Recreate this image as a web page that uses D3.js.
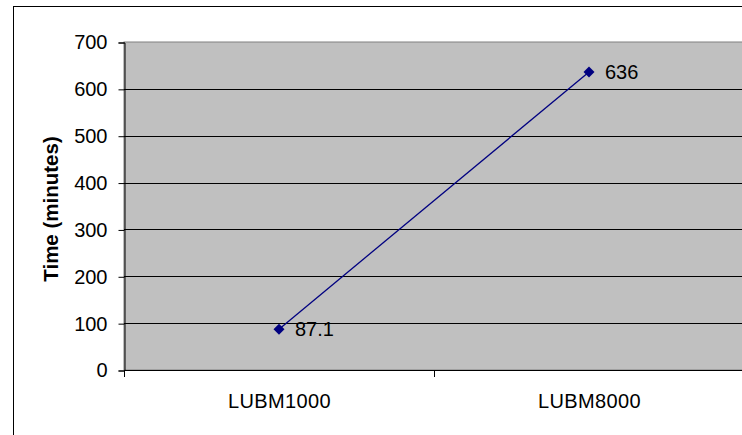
<!DOCTYPE html>
<html><head><meta charset="utf-8">
<script src="https://cdn.jsdelivr.net/npm/d3@7"></script>
<style>body{margin:0;background:#fff}svg{display:block}text{font-family:"Liberation Sans",Arial,sans-serif}</style>
</head><body>
<svg id="c" width="742" height="435"></svg>
<script>
const categories = ["LUBM1000", "LUBM8000"];
const values = [87.1, 636];
const valueLabels = ["87.1", "636"];
const yTicks = [0, 100, 200, 300, 400, 500, 600, 700];
const yTitle = "Time (minutes)";

const FONT = '"Liberation Sans",Arial,sans-serif';
const FS = 20;
const svg = d3.select("#c");
const L = 124, R = 744, T = 42, B = 370;

svg.append("rect").attr("x", 13.5).attr("y", 6.5).attr("width", 760).attr("height", 460)
  .attr("fill", "#fff").attr("stroke", "#000").attr("stroke-width", 1);

const x = d3.scaleBand().domain(categories).range([L, R]);
const y = d3.scaleLinear().domain([0, 700]).range([B, T]);

svg.append("rect").attr("x", L).attr("y", T).attr("width", R - L).attr("height", B - T)
  .attr("fill", "#c0c0c0").attr("stroke", "#808080").attr("stroke-width", 1);

svg.append("g").selectAll("line").data(yTicks.filter(d => d > 0 && d < 700)).join("line")
  .attr("x1", L).attr("x2", R).attr("y1", d => Math.round(y(d)) + 0.5).attr("y2", d => Math.round(y(d)) + 0.5)
  .attr("stroke", "#000").attr("stroke-width", 1);

const yAxis = svg.append("g").attr("transform", `translate(${L + 0.5},0.5)`)
  .call(d3.axisLeft(y).tickValues(yTicks).tickSize(6).tickPadding(11));
yAxis.attr("font-size", FS).attr("font-family", FONT);
yAxis.selectAll("text").attr("fill", "#000");
yAxis.selectAll("line,path").attr("stroke", "#000");

const xAxis = svg.append("g").attr("transform", `translate(0.5,${B + 0.5})`)
  .call(d3.axisBottom(x).tickSize(0).tickPadding(23));
xAxis.attr("font-size", FS).attr("font-family", FONT);
xAxis.select("path").attr("stroke", "#000").attr("d", `M${L},0H${R}`);
xAxis.selectAll("text").attr("fill", "#000").attr("letter-spacing", 0.4);
svg.append("g").selectAll("line").data([L, x(categories[1])]).join("line")
  .attr("x1", d => d + 0.5).attr("x2", d => d + 0.5).attr("y1", B).attr("y2", B + 7)
  .attr("stroke", "#000");

svg.append("text").attr("transform", `translate(58,${(T + B) / 2 + 3}) rotate(-90)`)
  .attr("text-anchor", "middle").attr("font-size", 20.5).attr("font-weight", "bold").text(yTitle);

const pts = categories.map((c, i) => [x(c) + x.bandwidth() / 2, y(values[i])]);
svg.append("path").attr("d", d3.line()(pts)).attr("fill", "none").attr("stroke", "#000080").attr("stroke-width", 1.3);
svg.append("g").selectAll("path").data(pts).join("path")
  .attr("d", "M0,-5.5L5.5,0L0,5.5L-5.5,0Z").attr("transform", d => `translate(${d[0]},${d[1]})`)
  .attr("fill", "#000080");
svg.append("g").selectAll("text").data(pts).join("text")
  .attr("x", d => d[0] + 16).attr("y", d => d[1] + 7).attr("font-size", FS).attr("fill", "#000")
  .text((d, i) => valueLabels[i]);
</script>
</body></html>
